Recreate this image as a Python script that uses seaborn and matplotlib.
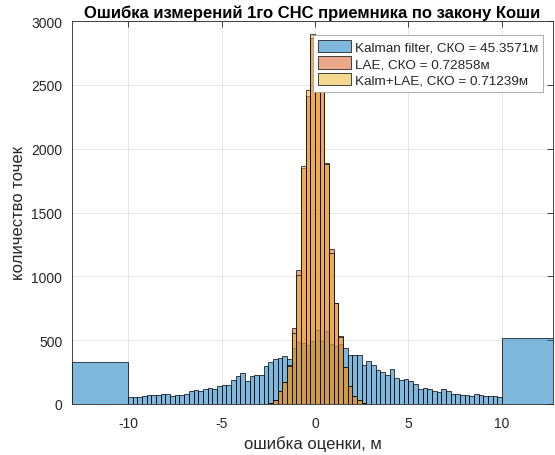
import numpy as np
import pandas as pd
import matplotlib
matplotlib.use("Agg")
import matplotlib.pyplot as plt
from matplotlib.patches import Patch
from matplotlib.colors import to_rgba
import seaborn as sns

# ---------------- data ----------------
# Kalman filter: overflow bin [-13,-10], 80 bins of 0.25 on [-10,10], overflow [10,13]
kalman_left_overflow = 326
kalman_counts = [
    52, 54, 57, 60, 70, 68, 72, 76, 76, 60,
    70, 68, 76, 99, 107, 102, 117, 122, 120, 140,
    145, 145, 191, 216, 241, 182, 216, 224, 230, 295,
    332, 355, 364, 376, 355, 440, 483, 478, 462, 496,
    578, 496, 569, 470, 457, 470, 436, 383, 385, 380,
    302, 334, 302, 269, 248, 227, 274, 203, 188, 195,
    180, 156, 115, 129, 114, 102, 93, 117, 99, 77,
    76, 72, 67, 62, 75, 70, 65, 65, 60, 53,
]
kalman_right_overflow = 519

# LAE and Kalm+LAE: bins of 0.25 on [-2.5, 2.75]
lae_counts = [10, 35, 100, 176, 304, 593, 1052, 1850, 2409, 2870,
              2780, 2560, 1885, 1214, 789, 535, 290, 143, 65, 30, 10]
kalm_lae_counts = [10, 35, 99, 175, 300, 556, 1010, 1866, 2462, 2898,
                   2800, 2580, 1880, 1183, 789, 522, 287, 143, 65, 30, 10]

labels = ["Kalman filter, СКО = 45.3571м",
          "LAE, СКО = 0.72858м",
          "Kalm+LAE, СКО = 0.71239м"]
title = "Ошибка измерений 1го СНС приемника по закону Коши"
xlabel = "ошибка оценки, м"
ylabel = "количество точек"

# ---------------- build bins ----------------
inner_edges = [round(-10 + 0.25 * i, 4) for i in range(81)]
k_edges = [-13.0] + inner_edges + [13.0]
k_weights = [kalman_left_overflow] + kalman_counts + [kalman_right_overflow]
k_df = pd.DataFrame({
    "x": [(a + b) / 2 for a, b in zip(k_edges[:-1], k_edges[1:])],
    "w": [float(v) for v in k_weights],
})

l_edges = [round(-2.5 + 0.25 * i, 4) for i in range(len(lae_counts) + 1)]
l_centers = [(a + b) / 2 for a, b in zip(l_edges[:-1], l_edges[1:])]
lae_df = pd.DataFrame({"x": l_centers, "w": [float(v) for v in lae_counts]})
kl_df = pd.DataFrame({"x": l_centers, "w": [float(v) for v in kalm_lae_counts]})

c_blue = (0.0, 0.447, 0.741)
c_red = (0.85, 0.325, 0.098)
c_yel = (0.929, 0.694, 0.125)

sns.set_theme(style="white")
plt.rcParams["font.family"] = ["Liberation Sans", "DejaVu Sans"]
plt.rcParams["axes.unicode_minus"] = False

fig = plt.figure(figsize=(5.55, 4.56), dpi=100)
ax = fig.add_axes([72 / 555, 51 / 456, 481 / 555, 383 / 456])

common = dict(x="x", weights="w", stat="count", element="bars", fill=True,
              alpha=0.5, edgecolor="black", linewidth=0.5, ax=ax)
sns.histplot(data=k_df, bins=k_edges, color=c_blue, **common)
sns.histplot(data=lae_df, bins=l_edges, color=c_red, **common)
sns.histplot(data=kl_df, bins=l_edges, color=c_yel, **common)

ax.set_xlim(-13, 12.73)
ax.set_ylim(0, 3000)
ax.set_xticks([-10, -5, 0, 5, 10])
ax.set_yticks(np.arange(0, 3001, 500))
ax.set_axisbelow(True)
ax.grid(True, color="#e2e2e2", linewidth=0.6)

dark = "#262626"
for s in ax.spines.values():
    s.set_color(dark)
    s.set_linewidth(0.6)
ax.tick_params(direction="in", length=4, width=0.6, colors=dark,
               labelsize=10, top=True, right=True, pad=7)
ax.tick_params(axis="x", pad=9)

ax.set_title(title, fontsize=12, fontweight="bold", color="black", pad=3)
ax.set_xlabel(xlabel, fontsize=12, color=dark, labelpad=3)
ax.set_ylabel(ylabel, fontsize=12, color=dark, labelpad=4)

handles = [Patch(facecolor=to_rgba(c, 0.5), edgecolor=dark, linewidth=0.6)
           for c in (c_blue, c_red, c_yel)]
leg = ax.legend(handles, labels, loc="upper left", bbox_to_anchor=(0.501, 0.963),
                borderaxespad=0, fontsize=9.7, frameon=True, fancybox=False,
                framealpha=1, edgecolor="#a0a0a0", handlelength=2.5,
                handleheight=1.05, handletextpad=0.3, labelspacing=0.2,
                borderpad=0.35)
leg.get_frame().set_linewidth(0.6)

fig.savefig("out.png", dpi=100)
